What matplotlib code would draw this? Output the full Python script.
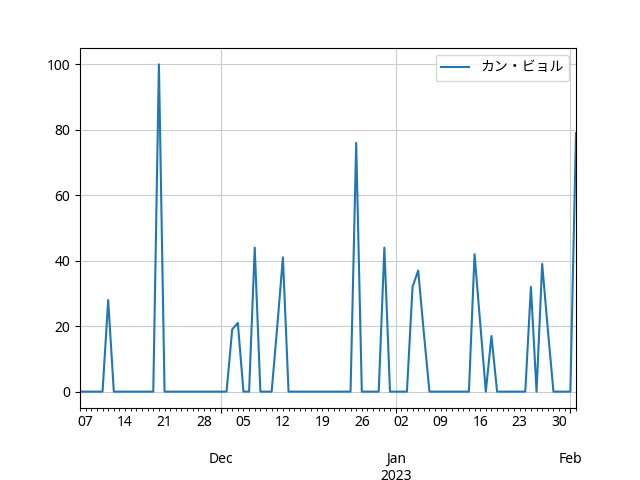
import matplotlib
matplotlib.use("Agg")
from matplotlib import pyplot as plt
import matplotlib.dates as mdates
import pandas as pd

plt.rcParams['font.family'] = ['Noto Sans', 'Noto Sans CJK JP', 'DejaVu Sans']

start_date = "2022-11-06"
series_name = "カン・ビョル"
counts = [0, 0, 0, 0, 0, 28, 0, 0, 0, 0, 0, 0, 0, 0, 100,
          0, 0, 0, 0, 0, 0, 0, 0, 0, 0, 0, 0,
          19, 21, 0, 0, 44, 0, 0, 0, 20, 41,
          0, 0, 0, 0, 0, 0, 0, 0, 0, 0, 0, 0,
          76, 0, 0, 0, 0, 44, 0, 0, 0, 0,
          32, 37, 18, 0, 0, 0, 0, 0, 0, 0, 0,
          42, 21, 0, 17, 0, 0, 0, 0, 0, 0,
          32, 0, 39, 19, 0, 0, 0, 0, 79]

dates = pd.date_range(start_date, periods=len(counts), freq="D")


def month_label(x, pos=None):
    d = mdates.num2date(x)
    if d.month == 1:
        return d.strftime("\n\n%b\n%Y")
    return d.strftime("\n\n%b")


def day_label(x, pos=None):
    d = mdates.num2date(x)
    if d.weekday() == 0:
        return d.strftime("%d")
    return ""


fig, ax = plt.subplots(figsize=(6.4, 4.8), dpi=100)
fig.subplots_adjust(top=0.9, bottom=0.15)
ax.plot(dates, counts, label=series_name)
ax.set_xlim(dates[0], dates[-1])

ax.xaxis.set_major_locator(mdates.MonthLocator())
ax.xaxis.set_major_formatter(plt.FuncFormatter(month_label))
ax.xaxis.set_minor_locator(mdates.DayLocator())
ax.xaxis.set_minor_formatter(plt.FuncFormatter(day_label))

ax.grid(True, color="#cccccc")
ax.legend(loc="upper right")

fig.savefig("out.png")
